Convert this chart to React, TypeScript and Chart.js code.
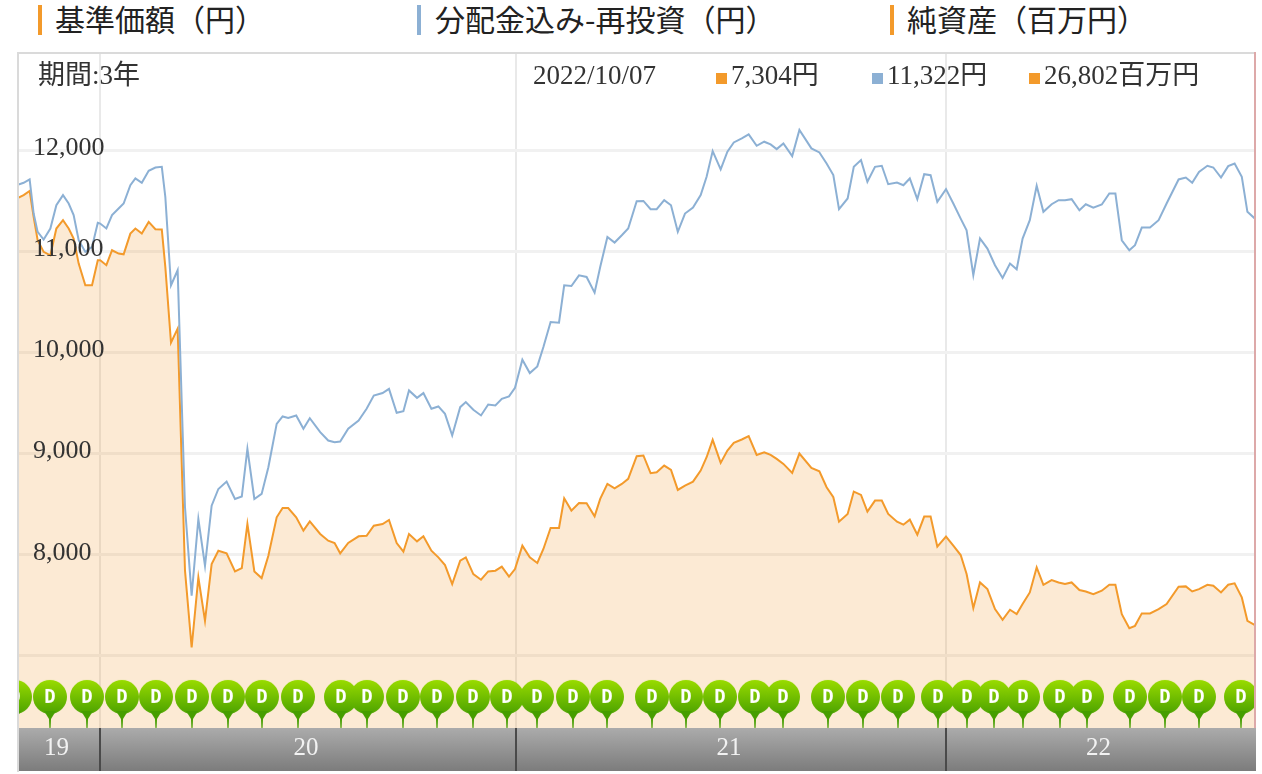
import React, { useEffect, useRef } from "react";
import { Chart, registerables } from "chart.js";

Chart.register(...registerables);

const weekIndex = [0,0.83,1.58,2.08,2.58,3.33,4.17,4.92,5.75,6.46,7.08,7.71,8.54,9.38,10.1,10.4,11.17,11.88,12.7,13.33,14.17,14.8,15.6,16.46,17.3,18.1,18.54,19.25,20.08,21,21.83,22.67,23.5,24.33,25.17,26.2,27.25,28.1,28.8,29.67,30.58,31.42,32.46,33.2,33.9,34.9,35.8,36.6,37.9,38.9,39.7,40.4,41.4,42.7,43.7,44.6,45.7,46.5,47.46,48.3,49,50,50.8,51.8,52.67,53.5,54.4,55.4,56.1,57.04,58,58.9,59.8,60.6,61.5,62.25,63.17,64.1,65.04,65.8,66.7,67.75,68.4,69.3,70.25,71.2,72.2,72.9,73.8,74.7,75.6,76.4,77.46,78.3,79.2,79.96,80.9,81.75,82.6,83.5,84.5,85.46,86.2,86.96,87.96,88.8,89.6,90.6,91.46,92.46,93.4,94.2,94.96,95.8,96.9,97.8,99.3,100.3,101.2,102.04,102.75,103.83,104.6,105.5,106.3,107.25,108.1,108.9,110,110.8,111.6,112.54,113.4,114.2,115.04,116.125,117.04,117.96,118.7,119.54,120.375,121.3,122.25,123.2,124.125,124.96,125.7,126.6,127.46,128.3,129.33,130.2,131,131.83,132.8,133.6,134.54,135.6,136.54,137.3,138.1,139.04,139.75,140.6,141.625,142.7,143.7,145.2,146.1,146.9,147.75,148.8,149.54,150.5,151.4,152.2,153.1,153.8,154.75];

const reinvestedNav = [11654,11677,11710,11373,11192,11116,11225,11455,11555,11472,11357,11109,10994,11043,11281,11274,11225,11357,11423,11472,11654,11720,11677,11795,11828,11835,11538,10664,10812,8469,7595,8353,7891,8485,8650,8723,8551,8575,9047,8551,8601,8865,9294,9367,9353,9377,9245,9350,9212,9129,9113,9119,9245,9327,9443,9574,9598,9640,9403,9419,9624,9551,9598,9443,9466,9393,9179,9459,9509,9433,9377,9485,9475,9541,9565,9650,9928,9796,9862,10053,10300,10294,10663,10657,10762,10746,10591,10845,11142,11086,11158,11225,11495,11498,11416,11416,11505,11455,11192,11373,11432,11555,11736,11990,11809,11984,12076,12115,12155,12043,12083,12056,12010,12066,11941,12200,12017,11977,11868,11753,11416,11522,11835,11901,11687,11835,11845,11663,11680,11653,11720,11515,11762,11752,11489,11614,11472,11323,11208,10763,11126,11027,10862,10736,10878,10822,11126,11307,11647,11390,11465,11505,11505,11515,11406,11465,11432,11462,11571,11571,11109,11010,11060,11234,11234,11307,11472,11710,11729,11677,11785,11845,11828,11729,11842,11868,11736,11390,11322];

const baseNav = [11522,11555,11597,11340,11109,10994,10960,11225,11307,11225,11126,10878,10664,10664,10911,10911,10862,11010,10977,10970,11175,11225,11175,11290,11218,11215,10845,10096,10235,7842,7083,7776,7347,7908,8040,8014,7835,7868,8304,7835,7769,7990,8370,8462,8462,8370,8238,8330,8205,8139,8116,8014,8116,8182,8188,8287,8304,8344,8116,8030,8205,8132,8182,8040,7974,7898,7710,7941,7974,7809,7753,7835,7842,7882,7783,7858,8090,7974,7918,8057,8264,8264,8558,8436,8512,8509,8380,8552,8700,8657,8700,8750,8974,8981,8806,8816,8881,8839,8641,8684,8723,8832,8964,9136,8908,9030,9106,9139,9172,8987,9013,8987,8947,8898,8809,9000,8858,8825,8667,8568,8327,8403,8624,8591,8426,8535,8535,8403,8327,8297,8347,8198,8377,8377,8080,8179,8089,7997,7809,7472,7726,7660,7463,7357,7456,7413,7512,7627,7875,7703,7750,7726,7710,7726,7651,7637,7611,7644,7703,7703,7413,7274,7297,7420,7420,7462,7512,7684,7687,7637,7660,7703,7693,7627,7703,7717,7578,7347,7304];

const dividendWeeks = [-0.25,4.125,8.75,13.125,17.375,21.875,26.375,30.625,35.125,40.5,43.75,48.25,52.5,57,61.25,65,69.5,73.75,79.375,83.625,87.875,92.25,95.75,101.375,105.75,110.125,115.125,118.75,122.125,125.75,130.375,133.75,139.125,143.5,147.75,153];
const pinLevel = 6525;

const yTicks = [7000, 8000, 9000, 10000, 11000, 12000];
const hiddenTickLabels = [7000];
const yearBoundaries = [10.375, 62.375, 116.125];
const yearLabels = ["19", "20", "21", "22"];

const legendLabels = ["基準価額（円）", "分配金込み-再投資（円）", "純資産（百万円）"];
const periodLabel = "期間:3年";
const dateLabel = "2022/10/07";
const readoutLabels = ["7,304円", "11,322円", "26,802百万円"];

const ORANGE = "#F39A2B";
const BLUE = "#8CB0D4";
const SERIF = '"Liberation Serif","Noto Sans CJK JP",serif';
const SANS = '"Noto Sans CJK JP","Noto Sans",sans-serif';

function makePin(): HTMLCanvasElement {
  const c = document.createElement("canvas");
  c.width = 36;
  c.height = 50;
  const ctx = c.getContext("2d")!;
  const g = ctx.createLinearGradient(0, 1, 0, 38);
  g.addColorStop(0, "#9ADC00");
  g.addColorStop(1, "#469E00");
  ctx.fillStyle = g;
  ctx.beginPath();
  ctx.arc(18, 18, 17, 0, Math.PI * 2);
  ctx.fill();
  ctx.fillStyle = "#469E00";
  ctx.beginPath();
  ctx.moveTo(12, 32);
  ctx.lineTo(24, 32);
  ctx.lineTo(19, 40);
  ctx.lineTo(18.6, 49);
  ctx.lineTo(17.4, 49);
  ctx.lineTo(17, 40);
  ctx.closePath();
  ctx.fill();
  ctx.fillStyle = "#FFFFFF";
  ctx.font = 'bold 19px "DejaVu Sans Mono","Liberation Mono",monospace';
  ctx.textAlign = "center";
  ctx.textBaseline = "middle";
  ctx.fillText("D", 18, 19);
  return c;
}

const stripPlugin = {
  id: "yearStrip",
  afterDraw(chart: any) {
    const { ctx, chartArea, scales } = chart;
    const bottom = chart.height - 1;
    const g = ctx.createLinearGradient(0, chartArea.bottom, 0, bottom);
    g.addColorStop(0, "#ABABAB");
    g.addColorStop(1, "#7C7C7C");
    ctx.save();
    ctx.fillStyle = g;
    ctx.fillRect(chartArea.left, chartArea.bottom, chartArea.right - chartArea.left + 1, bottom - chartArea.bottom);
    const edges = [chartArea.left, ...yearBoundaries.map((b) => scales.x.getPixelForValue(b)), chartArea.right];
    ctx.fillStyle = "#4A4A4A";
    yearBoundaries.forEach((b) => {
      ctx.fillRect(scales.x.getPixelForValue(b) - 1, chartArea.bottom, 2, bottom - chartArea.bottom);
    });
    ctx.fillStyle = "#F2F2F2";
    ctx.font = `25px ${SERIF}`;
    ctx.textAlign = "center";
    ctx.textBaseline = "middle";
    yearLabels.forEach((label, i) => {
      ctx.fillText(label, (edges[i] + edges[i + 1]) / 2 - 2, (chartArea.bottom + bottom) / 2 - 1);
    });
    ctx.fillStyle = "#DADADA";
    ctx.fillRect(0, 0, 2, chart.height);
    ctx.fillRect(0, 0, chart.width, 2);
    ctx.fillStyle = "#DDA9A9";
    ctx.fillRect(chartArea.right - 1, 0, 2, chartArea.bottom);
    ctx.restore();
  },
};

const abs = (left: number, top: number, extra: React.CSSProperties = {}): React.CSSProperties => ({
  position: "absolute",
  left,
  top,
  whiteSpace: "nowrap",
  ...extra,
});

export default function App() {
  const ref = useRef<HTMLCanvasElement>(null);

  useEffect(() => {
    const chart = new Chart(ref.current!, {
      type: "line",
      data: {
        datasets: [
          {
            label: "D",
            data: dividendWeeks.map((x) => ({ x, y: pinLevel })),
            showLine: false,
            pointStyle: makePin() as any,
            pointRadius: 26,
            order: 0,
          },
          {
            label: legendLabels[1],
            data: weekIndex.map((x, i) => ({ x, y: reinvestedNav[i] })),
            borderColor: BLUE,
            borderWidth: 2,
            pointRadius: 0,
            tension: 0,
            fill: false,
            order: 1,
          },
          {
            label: legendLabels[0],
            data: weekIndex.map((x, i) => ({ x, y: baseNav[i] })),
            borderColor: ORANGE,
            borderWidth: 2,
            backgroundColor: "rgba(240,150,40,0.2)",
            pointRadius: 0,
            tension: 0,
            fill: "start",
            order: 2,
          },
        ],
      },
      options: {
        animation: false,
        responsive: false,
        devicePixelRatio: 1,
        layout: { autoPadding: false, padding: { left: 0, top: 0, right: 1, bottom: 44 } },
        plugins: { legend: { display: false }, tooltip: { enabled: false } },
        scales: {
          x: {
            type: "linear",
            min: 0,
            max: 154.75,
            border: { display: false },
            afterBuildTicks: (s: any) => {
              s.ticks = yearBoundaries.map((value) => ({ value }));
            },
            ticks: { display: false },
            grid: { color: "#E9E9E9", lineWidth: 2, drawTicks: false },
          },
          y: {
            type: "linear",
            min: 6287,
            max: 12970,
            border: { display: false },
            afterBuildTicks: (s: any) => {
              s.ticks = yTicks.map((value) => ({ value }));
            },
            afterFit: (s: any) => {
              s.width = 0;
              s.paddingTop = 0;
              s.paddingBottom = 0;
            },
            ticks: {
              mirror: true,
              padding: 16,
              labelOffset: -2,
              z: 1,
              color: "#333333",
              font: { family: SERIF, size: 26 },
              callback: (v: any) => (hiddenTickLabels.includes(Number(v)) ? "" : Number(v).toLocaleString("en-US")),
            },
            grid: { color: "#F1F1F1", lineWidth: 3, drawTicks: false },
          },
        },
      },
      plugins: [stripPlugin],
    } as any);
    return () => chart.destroy();
  }, []);

  const legendFont: React.CSSProperties = { font: `30px/36px ${SANS}`, color: "#222222" };
  const readFont: React.CSSProperties = { font: `27px/30px ${SERIF}`, color: "#333333" };

  return (
    <div style={{ position: "absolute", left: 0, top: 0, width: 1262, height: 774, background: "#FFFFFF", overflow: "hidden", filter: "blur(0.7px)" }}>
      <div style={abs(38, 5, { width: 4, height: 30, background: ORANGE })} />
      <div style={abs(55, 0, legendFont)}>{legendLabels[0]}</div>
      <div style={abs(417, 5, { width: 4, height: 30, background: BLUE })} />
      <div style={abs(435, 0, legendFont)}>{legendLabels[1]}</div>
      <div style={abs(890, 5, { width: 4, height: 30, background: ORANGE })} />
      <div style={abs(907, 0, legendFont)}>{legendLabels[2]}</div>
      <canvas ref={ref} width={1239} height={720} style={{ position: "absolute", left: 17, top: 52, width: 1239, height: 720 }} />
      <div style={abs(38, 60, readFont)}>{periodLabel}</div>
      <div style={abs(533, 60, readFont)}>{dateLabel}</div>
      <div style={abs(716, 73, { width: 11, height: 11, background: ORANGE })} />
      <div style={abs(731, 60, readFont)}>{readoutLabels[0]}</div>
      <div style={abs(872, 73, { width: 11, height: 11, background: BLUE })} />
      <div style={abs(887, 60, readFont)}>{readoutLabels[1]}</div>
      <div style={abs(1029, 73, { width: 11, height: 11, background: ORANGE })} />
      <div style={abs(1044, 60, readFont)}>{readoutLabels[2]}</div>
    </div>
  );
}
